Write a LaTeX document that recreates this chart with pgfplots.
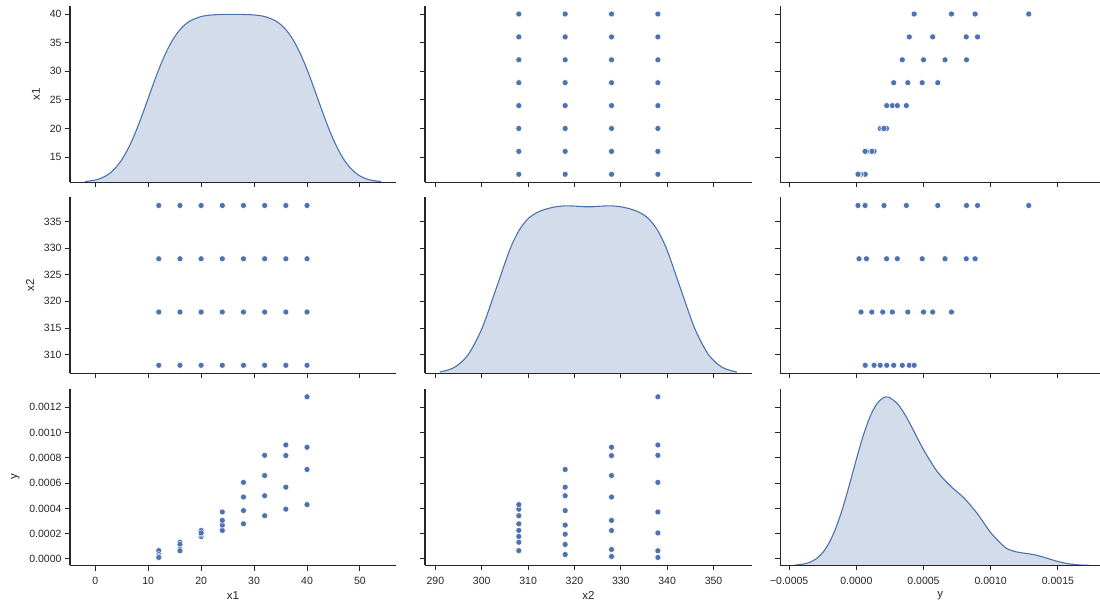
\documentclass[border=0pt]{standalone}
\usepackage{fontspec}
\setmainfont{Liberation Sans}
\usepackage{pgfplots}
\pgfplotsset{compat=1.18}
\usepackage{pgfplotstable}

\definecolor{sbblue}{RGB}{76,114,176}
\definecolor{spine}{RGB}{38,38,38}

\pgfplotstableread{
x1 x2 y
12 308 0.000066
16 308 0.000132
20 308 0.000178
24 308 0.000226
28 308 0.000278
32 308 0.000342
36 308 0.000394
40 308 0.000430
12 318 0.000035
16 318 0.000115
20 318 0.000196
24 318 0.000268
28 318 0.000383
32 318 0.000500
36 318 0.000568
40 318 0.000708
12 328 0.000020
16 328 0.000075
20 328 0.000225
24 328 0.000305
28 328 0.000490
32 328 0.000660
36 328 0.000818
40 328 0.000884
12 338 0.000012
16 338 0.000065
20 338 0.000206
24 338 0.000372
28 338 0.000606
32 338 0.000820
36 338 0.000902
40 338 0.001283
}\data

\pgfplotstableread{
x d
-1.97 0.0117
0 0.0389
1 0.0672
2 0.1111
3 0.1761
4 0.2675
5 0.3902
6 0.5470
7 0.7379
8 0.9589
9 1.2027
10 1.4589
11 1.7154
12 1.9589
13 2.1801
14 2.3708
15 2.5277
16 2.6503
17 2.7418
18 2.8068
20 2.8789
22 2.9063
24 2.9149
26 2.9165
28 2.9149
30 2.9063
32 2.8789
34 2.8068
35 2.7418
36 2.6503
37 2.5277
38 2.3708
39 2.1801
40 1.9589
41 1.7154
42 1.4589
43 1.2027
44 0.9589
45 0.7379
46 0.5470
47 0.3902
48 0.2675
49 0.1761
50 0.1111
51 0.0672
52 0.0389
53.97 0.0117
}\kdexone

\pgfplotstableread{
x d
290.96 0.0112
294 0.0480
297 0.1544
300 0.3775
303 0.7095
306 1.0478
308 1.2143
310 1.3174
312 1.3717
314 1.4008
316 1.4187
318 1.4266
320 1.4247
322 1.4196
323 1.4188
324 1.4196
326 1.4247
328 1.4266
330 1.4187
332 1.4008
334 1.3717
336 1.3174
338 1.2143
340 1.0478
343 0.7095
346 0.3775
349 0.1544
352 0.0480
355.04 0.0112
}\kdextwo

\pgfplotstableread{
x d
-0.000456 0.041
-0.0004 0.121
-0.00035 0.289
-0.0003 0.624
-0.00025 1.227
-0.0002 2.214
-0.00015 3.645
-0.0001 5.532
-0.00005 7.756
0 10.10
0.00005 12.30
0.0001 14.10
0.00015 15.34
0.0002 15.95
0.00024 16.01
0.0003 15.47
0.00035 14.60
0.0004 13.47
0.0005 11.02
0.0006 8.97
0.0007 7.57
0.0008 6.44
0.0009 4.94
0.001 3.13
0.0011 1.80
0.00115 1.45
0.0012 1.27
0.00125 1.17
0.0013 1.08
0.00135 0.946
0.0014 0.767
0.00145 0.566
0.0015 0.381
0.00155 0.231
0.0016 0.127
0.00165 0.063
0.0017 0.027
0.00175 0.011
}\kdey

\pgfplotsset{
  pp/.style={
    scale only axis,
    anchor=south west,
    axis lines=left,
    axis line style={-, line width=1.1pt, spine},
    tick align=outside,
    major tick length=5pt,
    every tick/.append style={spine, line width=1pt},
    scaled ticks=false,
    tick label style={font=\fontsize{10.5}{12}\selectfont, text=spine},
    xticklabel style={yshift=-3.5pt},
    label style={font=\fontsize{11.5}{13}\selectfont, text=spine},
    ylabel shift=3pt,
  },
  kd/.style={
    scale only axis,
    anchor=south west,
    hide axis,
    scaled ticks=false,
    ymin=0,
  },
  c1/.style={xmin=-4.767, xmax=56.767, width=325.8pt},
  c2/.style={xmin=287.76, xmax=358.24, width=326.7pt},
  c3/.style={xmin=-0.000566, xmax=0.0018136, width=319.7pt},
  r1/.style={ymin=10.6, ymax=41.4, height=176.3pt},
  r2/.style={ymin=306.5, ymax=339.5, height=175.8pt},
  r3/.style={ymin=-0.0000516, ymax=0.001347, height=176.8pt},
  t1/.style={xtick={0,10,20,30,40,50}},
  t2/.style={xtick={290,300,310,320,330,340,350}},
  t3/.style={xtick={-0.0005,0,0.0005,0.001,0.0015}},
  u1/.style={ytick={15,20,25,30,35,40}},
  u2/.style={ytick={310,315,320,325,330,335}},
  u3/.style={ytick={0,0.0002,0.0004,0.0006,0.0008,0.001,0.0012}},
  nox/.style={xticklabels={}},
  noy/.style={yticklabels={}},
  sc/.style={only marks, mark=*, mark size=3pt, mark options={fill=sbblue, draw=white, line width=0.45pt}},
  kfill/.style={draw=none, fill=sbblue, fill opacity=0.25},
  kline/.style={sbblue, line width=1.1pt, smooth, no marks},
}

\begin{document}
\begin{tikzpicture}[x=1pt,y=1pt]
\useasboundingbox (0,0) rectangle (1100,602);

% ---------- Row 1 ----------
\begin{axis}[kd, c1, height=176.3pt, ymax=3.062, at={(70pt,419.7pt)}]
\addplot[kfill] table[x=x,y=d] {\kdexone} \closedcycle;
\addplot[kline] table[x=x,y=d] {\kdexone};
\end{axis}
\begin{axis}[pp, c1, r1, t1, u1, nox, at={(70pt,419.7pt)},
  yticklabels={15,20,25,30,35,40}, ylabel={x1}]
\end{axis}

\begin{axis}[pp, c2, r1, t2, u1, nox, noy, at={(425pt,419.7pt)}]
\addplot[sc] table[x=x2,y=x1] {\data};
\end{axis}

\begin{axis}[pp, c3, r1, t3, u1, nox, noy, at={(780.3pt,419.7pt)}]
\addplot[sc] table[x=y,y=x1] {\data};
\end{axis}

% ---------- Row 2 ----------
\begin{axis}[pp, c1, r2, t1, u2, nox, at={(70pt,228.7pt)},
  yticklabels={310,315,320,325,330,335}, ylabel={x2}]
\addplot[sc] table[x=x1,y=x2] {\data};
\end{axis}

\begin{axis}[kd, c2, height=175.8pt, ymax=1.498, at={(425pt,228.7pt)}]
\addplot[kfill] table[x=x,y=d] {\kdextwo} \closedcycle;
\addplot[kline] table[x=x,y=d] {\kdextwo};
\end{axis}
\begin{axis}[pp, c2, r2, t2, u2, nox, noy, at={(425pt,228.7pt)}]
\end{axis}

\begin{axis}[pp, c3, r2, t3, u2, nox, noy, at={(780.3pt,228.7pt)}]
\addplot[sc] table[x=y,y=x2] {\data};
\end{axis}

% ---------- Row 3 ----------
\begin{axis}[pp, c1, r3, t1, u3, at={(70pt,36.5pt)},
  xticklabels={0,10,20,30,40,50}, xlabel={x1},
  yticklabels={0.0000,0.0002,0.0004,0.0006,0.0008,0.0010,0.0012}, ylabel={y}]
\addplot[sc] table[x=x1,y=y] {\data};
\end{axis}

\begin{axis}[pp, c2, r3, t2, u3, noy, at={(425pt,36.5pt)},
  xticklabels={290,300,310,320,330,340,350}, xlabel={x2}]
\addplot[sc] table[x=x2,y=y] {\data};
\end{axis}

\begin{axis}[kd, c3, height=176.8pt, ymax=16.82, at={(780.3pt,36.5pt)}]
\addplot[kfill] table[x=x,y=d] {\kdey} \closedcycle;
\addplot[kline] table[x=x,y=d] {\kdey};
\end{axis}
\begin{axis}[pp, c3, r3, t3, u3, noy, at={(780.3pt,36.5pt)},
  xticklabels={−0.0005,0.0000,0.0005,0.0010,0.0015}, xlabel={y}]
\end{axis}

\end{tikzpicture}
\end{document}
